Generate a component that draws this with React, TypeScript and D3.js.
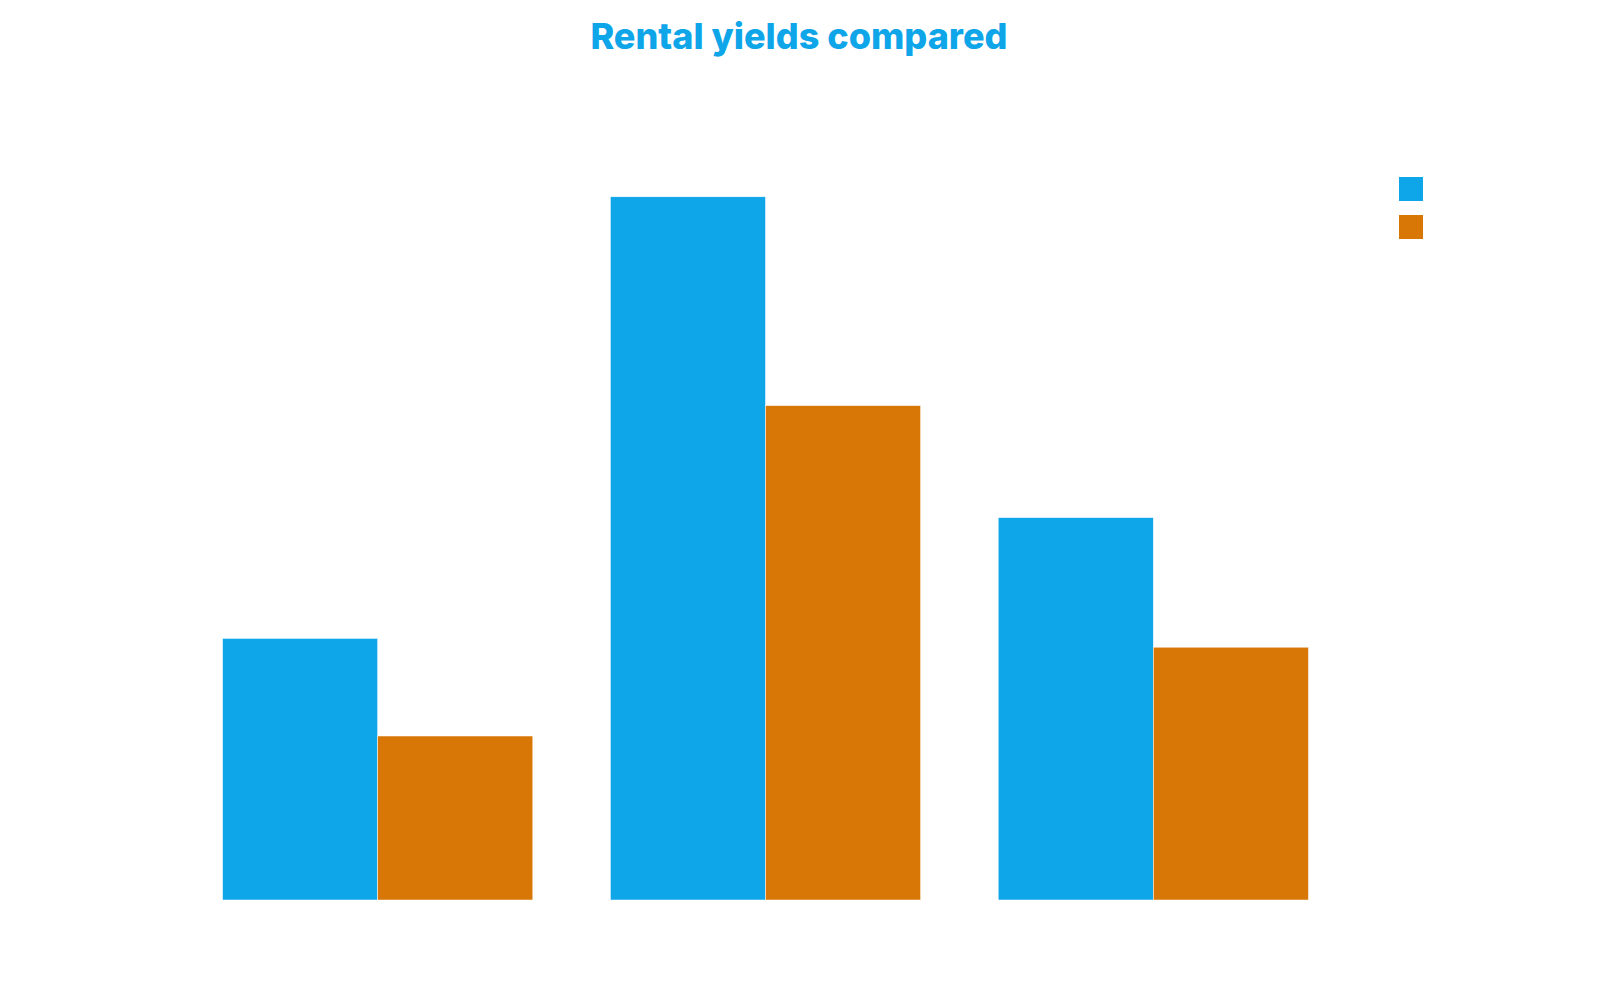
import React, { useEffect, useRef } from "react";
import * as d3 from "d3";

// categories and series (labels are not shown in the chart)
const categories = ["A", "B", "C"];
const seriesNames = ["Gross", "Net"];
const seriesColors = ["#0ea5e9", "#d97706"];
const grossValues = [3.27, 8.79, 4.78];
const netValues = [2.05, 6.18, 3.16];

function App() {
  const ref = useRef<SVGSVGElement>(null);
  const width = 1584;
  const height = 984;
  const baseline = 892;

  useEffect(() => {
    const svg = d3.select(ref.current);
    svg.selectAll("*").remove();

    const x = d3
      .scaleBand<string>()
      .domain(categories)
      .range([137, 1378])
      .paddingInner(0.2)
      .paddingOuter(0.2);

    const xSub = d3
      .scaleBand<string>()
      .domain(seriesNames)
      .range([0, x.bandwidth()]);

    const y = d3.scaleLinear().domain([0, 10]).range([baseline, baseline - 800]);

    const color = d3.scaleOrdinal<string>().domain(seriesNames).range(seriesColors);

    const rows = categories.map((c, i) => ({
      cat: c,
      values: [grossValues[i], netValues[i]],
    }));

    // Title
    svg
      .append("text")
      .attr("x", 791)
      .attr("y", 41)
      .attr("text-anchor", "middle")
      .attr("font-family", "Inter, sans-serif")
      .attr("font-weight", 800)
      .attr("font-size", 36)
      .attr("fill", "#0ea5e9")
      .text("Rental yields compared");

    // Bars
    const groups = svg
      .append("g")
      .selectAll("g")
      .data(rows)
      .join("g")
      .attr("transform", (d) => `translate(${x(d.cat)},0)`);

    groups
      .selectAll("rect")
      .data((d) => d.values.map((v, i) => ({ key: seriesNames[i], v })))
      .join("rect")
      .attr("x", (d) => xSub(d.key) as number)
      .attr("y", (d) => y(d.v))
      .attr("width", xSub.bandwidth())
      .attr("height", (d) => baseline - y(d.v))
      .attr("fill", (d) => color(d.key))
      .attr("stroke", "#ffffff")
      .attr("stroke-width", 0.5);

    // Legend swatches
    svg
      .append("g")
      .selectAll("rect")
      .data(seriesNames)
      .join("rect")
      .attr("x", 1391)
      .attr("y", (_, i) => 169 + i * 38)
      .attr("width", 24)
      .attr("height", 24)
      .attr("fill", (d) => color(d));
  }, []);

  return <svg ref={ref} width={width} height={height}></svg>;
}

export default App;
